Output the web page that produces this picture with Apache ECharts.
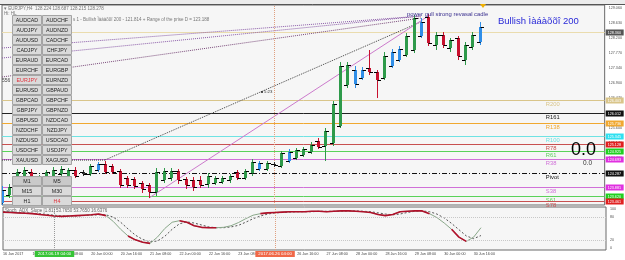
<!DOCTYPE html>
<html><head><meta charset="utf-8">
<script src="https://cdn.jsdelivr.net/npm/echarts@6/dist/echarts.min.js"></script>
<style>html,body{margin:0;padding:0;background:#fff}#c{width:625px;height:260px}</style>
</head><body><div id="c"></div><script>
// ---------- DATA ----------
const dateLabels = ['16 Jun 2017','16 Jun 16:00','19 Jun 08:00','20 Jun 00:00','20 Jun 16:00','21 Jun 08:00','22 Jun 00:00','22 Jun 16:00','23 Jun 08:00','26 Jun 00:00','26 Jun 16:00','27 Jun 08:00','28 Jun 00:00','28 Jun 16:00','29 Jun 08:00','30 Jun 00:00','30 Jun 16:00'];
const opens  = [123.417,123.649,124.112,124.199,124.315,123.996,124.141,124.199,124.257,124.199,124.373,124.315,124.257,124.373,124.547,124.489,124.344,124.141,124.112,123.996,123.939,123.736,124.083,124.141,124.344,124.112,124.083,124.083,123.967,123.996,124.025,124.083,124.315,124.141,124.286,124.402,124.402,124.547,124.489,124.634,124.721,124.808,124.895,125.214,125.069,125.156,125.649,126.837,127.272,127.040,127.330,127.214,127.040,127.388,127.562,127.707,127.852,128.257,128.808,127.997,128.286,127.910,128.200,127.562,127.939,128.084];
const closes = [123.794,123.881,124.315,124.373,124.083,124.170,124.315,124.373,124.402,124.373,124.199,124.257,124.489,124.547,124.315,124.315,123.939,123.939,123.910,123.823,123.736,124.315,124.344,124.344,124.083,123.939,123.881,123.939,124.199,124.141,124.141,124.199,124.141,124.344,124.605,124.576,124.576,124.518,124.866,124.895,124.953,124.982,125.098,125.040,125.504,126.286,127.388,127.417,126.866,127.272,127.214,126.982,127.678,127.794,127.881,128.257,128.779,128.663,128.055,128.286,127.997,128.142,127.678,127.997,128.286,128.518];
const lows   = [123.272,123.562,124.054,124.141,123.967,123.910,124.083,124.141,124.199,124.141,124.141,124.199,124.199,124.315,124.257,124.257,123.852,123.852,123.823,123.707,123.562,123.620,123.996,124.054,123.967,123.823,123.765,123.852,123.852,123.939,123.967,123.996,124.083,124.083,124.199,124.344,124.344,124.460,124.431,124.576,124.663,124.750,124.837,124.982,124.634,125.069,125.591,126.750,126.750,126.982,127.127,126.460,126.982,127.330,127.504,127.649,127.765,128.200,127.968,127.852,127.910,127.794,127.562,127.417,127.852,127.997];
const highs  = [123.910,123.967,124.402,124.460,124.402,124.228,124.373,124.460,124.489,124.431,124.460,124.373,124.547,124.605,124.634,124.547,124.402,124.199,124.170,124.054,123.996,124.431,124.431,124.431,124.402,124.170,124.170,124.199,124.286,124.199,124.199,124.257,124.373,124.402,124.692,124.634,124.634,124.605,124.924,124.982,125.011,125.040,125.185,125.301,125.591,126.373,127.504,127.504,127.388,127.359,127.852,127.272,127.794,127.881,127.968,128.344,128.866,128.779,128.895,128.373,128.373,128.200,128.257,128.084,128.373,128.663];
// bar colour class: 0 bull, 1 bear, 2 blue, 3 neutral
const barClass = [2,0,0,0,1,0,0,0,0,0,1,3,0,2,1,1,1,1,1,1,1,0,0,0,1,1,1,1,0,0,0,0,1,0,0,2,0,3,0,2,0,0,0,1,0,0,0,0,2,2,1,1,0,2,2,0,0,2,1,0,1,0,1,0,0,2];
const priceTicks = [123.870,124.300,124.730,125.170,125.600,126.030,126.470,126.900,127.340,127.770,128.200,128.630,129.060];
const levelNames  = ['R200','R161','R138','R100','R78','R61','R38','Pivot','S38','S61','S78'];
const levelValues = [126.403,126.012,125.736,125.345,125.128,124.925,124.693,124.287,123.881,123.620,123.461];
const lastPrice = 128.360;
const stochMain   = [92,91,90,89,88,86,84,82,81,82,83,84,85,87,83,68,48,31,21,15,12,28,50,66,70,66,57,53,52,52,53,57,65,75,84,88,90,91,92,93,93,93,94,94,93,94,95,95,94,93,91,86,83,86,93,94,95,95,88,78,64,48,28,17,28,52];
const stochSignal = [93,92,91,90,89,88,86,84,82,82,82,83,84,85,85,79,66,49,33,22,16,18,30,48,62,67,64,59,54,52,52,54,58,66,75,82,87,90,91,92,93,93,93,94,94,94,94,95,95,94,93,90,87,85,87,91,94,95,93,87,77,63,47,31,24,32];
const stochRedRanges = [[0,14],[17,20],[24,29],[35,58],[61,63]];
const stochTicks = [0,20,80,100];
// trend lines: [startBar, startPrice, endBar, endPrice]
const trendViolet = [20,123.562,58,128.837];
const trendDotted = [14,124.663,57,128.669];
const fanLines = [[0,127.910,57,128.837],[0,127.620,57,128.837],[0,127.069,57,128.779]];
const flatDotted = [0,124.663,14,124.663];
const vLineBar = 37, cursorBar = 7;
const pairs = [['AUDCAD','AUDCHF'],['AUDJPY','AUDNZD'],['AUDUSD','CADCHF'],['CADJPY','CHFJPY'],['EURAUD','EURCAD'],['EURCHF','EURGBP'],['EURJPY','EURNZD'],['EURUSD','GBPAUD'],['GBPCAD','GBPCHF'],['GBPJPY','GBPNZD'],['GBPUSD','NZDCAD'],['NZDCHF','NZDJPY'],['NZDUSD','USDCAD'],['USDCHF','USDJPY'],['XAUUSD','XAGUSD']];
const frames = [['M1','M5'],['M15','M30'],['H1','H4']];

// ---------- BUILD ----------
const NCAT = 83;
const cats = [];
for (let i=0;i<NCAT;i++){ cats.push(i%4===0 && dateLabels[i/4] ? dateLabels[i/4] : ''); }
const FONT = 'Liberation Sans';
const BAR_COL = ['#2e9a4a','#c8102e','#2f8ee8','#333333'];
const LV_COL  = ['#d9c58a','#222222','#f0a830','#6fe3e3','#c85050','#5ad25a','#d070d8','#111111','#d070d8','#5ad25a','#c85050'];
const LV_BOX  = ['#d9c58a','#111111','#f0a830','#30e0f0','#e02020','#20d020','#e030e0','#111111','#e030e0','#20d020','#e02020'];

const barData = opens.map((o,i)=>[i,o,closes[i],lows[i],highs[i],barClass[i]]);
const redLine = stochMain.map((v,i)=> stochRedRanges.some(r=>i>=r[0]&&i<=r[1]) ? [i,v] : [i,null]);

function seg(a, color, type, width){
  return {type:'line', xAxisIndex:0, yAxisIndex:0, data:[[a[0],a[1]],[a[2],a[3]]], symbol:'none', silent:true,
    lineStyle:{color, type, width}, z:3, animation:false};
}

const chart = echarts.init(document.getElementById('c'), null, {renderer:'canvas'});
const option = {
  animation:false,
  backgroundColor:'#ffffff',
  textStyle:{fontFamily:FONT},
  grid:[
    {left:2, right:19, top:5, height:200, show:true, backgroundColor:'#f6f6f6', borderColor:'#6a6a6a', borderWidth:1},
    {left:2, right:19, top:207, height:43, show:true, backgroundColor:'#f6f6f6', borderColor:'#6a6a6a', borderWidth:1}
  ],
  xAxis:[
    {type:'category', gridIndex:0, data:cats, boundaryGap:false, axisLine:{show:false}, axisTick:{show:false}, axisLabel:{show:false}, splitLine:{show:false}},
    {type:'category', gridIndex:1, data:cats, boundaryGap:false, axisLine:{show:false}, axisTick:{show:false}, splitLine:{show:false},
     axisLabel:{show:true, interval:0, align:'left', fontSize:3.7, color:'#444', margin:2, fontFamily:FONT}}
  ],
  yAxis:[
    {type:'value', gridIndex:0, position:'right', min:123.359, max:129.157, splitLine:{show:false}, axisLine:{show:false}, axisTick:{show:false},
     axisLabel:{customValues:priceTicks, formatter:v=>v.toFixed(3), fontSize:3.7, color:'#555', margin:4, fontFamily:FONT}},
    {type:'value', gridIndex:1, position:'right', min:-5, max:105, splitLine:{show:false}, axisLine:{show:false}, axisTick:{show:false},
     axisLabel:{customValues:stochTicks, fontSize:3.7, color:'#555', margin:4, fontFamily:FONT}}
  ],
  series:[
    // pivot levels
    {type:'custom', xAxisIndex:0, yAxisIndex:0, clip:false, z:2, silent:true,
     data: levelValues.map((v,i)=>[i,v]),
     renderItem(params, api){
       const i = params.dataIndex, v = levelValues[i];
       const cs = params.coordSys;
       const y = Math.round(api.coord([0,v])[1])+0.5;
       const lx = api.coord([73.6, v])[0];
       const dash = levelNames[i]==='Pivot' ? [5,2,1,2] : null;
       return {type:'group', children:[
         {type:'line', shape:{x1:cs.x, y1:y, x2:cs.x+cs.width, y2:y}, style:{stroke:LV_COL[i], lineWidth:1, lineDash:dash}},
         {type:'text', x:lx, y:y+0.5, style:{text:levelNames[i], fill:LV_COL[i], font:'5.8px '+FONT, textVerticalAlign:'top'}},
         {type:'rect', shape:{x:cs.x+cs.width+1, y:y-3, width:18, height:6}, style:{fill:LV_BOX[i]}},
         {type:'text', x:cs.x+cs.width+3, y:y+0.3, style:{text:v.toFixed(3), fill:'#fff', font:'3.7px '+FONT, textVerticalAlign:'middle'}}
       ]};
     }},
    // last price line
    {type:'custom', xAxisIndex:0, yAxisIndex:0, clip:false, z:2, silent:true, data:[[0,lastPrice]],
     renderItem(params, api){
       const cs = params.coordSys;
       const y = Math.round(api.coord([0,lastPrice])[1])+0.5;
       return {type:'group', children:[
         {type:'line', shape:{x1:cs.x, y1:y, x2:cs.x+cs.width, y2:y}, style:{stroke:'#eadcae', lineWidth:1}},
         {type:'rect', shape:{x:cs.x+cs.width+1, y:y-3, width:18, height:6}, style:{fill:'#555'}},
         {type:'text', x:cs.x+cs.width+3, y:y+0.3, style:{text:lastPrice.toFixed(3), fill:'#fff', font:'3.7px '+FONT, textVerticalAlign:'middle'}}
       ]};
     }},
    seg(flatDotted,'#333','dotted',1),
    seg(fanLines[0],'#8a5aa8','dotted',1),
    seg(fanLines[1],'#8a5aa8','dotted',1),
    seg(fanLines[2],'#7a4a7a','dotted',1),
    seg(trendDotted,'#444','dotted',1),
    seg(trendViolet,'#cc7acc','solid',1),
    // bars
    {type:'custom', xAxisIndex:0, yAxisIndex:0, clip:true, z:5, silent:true,
     encode:{x:0, y:[1,2,3,4]}, data:barData,
     markLine:{silent:true, symbol:'none', label:{show:false}, lineStyle:{color:'#e0a080', type:'dotted', width:1}, data:[{xAxis:vLineBar}]},
     renderItem(params, api){
       const x = api.value(0);
       const pO = api.coord([x, api.value(1)]), pC = api.coord([x, api.value(2)]);
       const pL = api.coord([x, api.value(3)]), pH = api.coord([x, api.value(4)]);
       const col = BAR_COL[api.value(5)];
       const cx = Math.round(pO[0])+0.5;
       const top = Math.min(pO[1],pC[1]), h = Math.max(1, Math.abs(pO[1]-pC[1]));
       return {type:'group', children:[
         {type:'line', shape:{x1:cx, y1:pH[1], x2:cx, y2:pL[1]}, style:{stroke:col, lineWidth:1}},
         {type:'rect', shape:{x:cx-1.5, y:top, width:3, height:h}, style:{fill:col}},
         {type:'line', shape:{x1:cx-3.5, y1:Math.round(pO[1])+0.5, x2:cx, y2:Math.round(pO[1])+0.5}, style:{stroke:'#000', lineWidth:1}},
         {type:'line', shape:{x1:cx, y1:Math.round(pC[1])+0.5, x2:cx+3.5, y2:Math.round(pC[1])+0.5}, style:{stroke:'#000', lineWidth:1}}
       ]};
     }},
    // stochastic
    {type:'line', xAxisIndex:1, yAxisIndex:1, data:stochSignal.map((v,i)=>[i,v]), symbol:'none', lineStyle:{color:'#555', type:[2,2], width:1}, z:3,
     markLine:{silent:true, symbol:'none', label:{show:false}, lineStyle:{color:'#c8c8c8', type:'dotted', width:1}, data:[{yAxis:20},{yAxis:80}]}},
    {type:'line', xAxisIndex:1, yAxisIndex:1, data:stochMain.map((v,i)=>[i,v]), symbol:'none', lineStyle:{color:'#8aa88a', width:1}, z:4},
    {type:'line', xAxisIndex:1, yAxisIndex:1, data:redLine, symbol:'none', connectNulls:false, lineStyle:{color:'#b0102a', width:1.6}, z:5,
     markLine:{silent:true, symbol:'none', z:20, lineStyle:{color:'#999', type:'dotted', width:1},
       data:[
         {xAxis:cursorBar, label:{show:true, position:'start', distance:1, formatter:'2017.06.19 04:00', backgroundColor:'#35c435', color:'#fff', fontSize:4.3, padding:[1,3], fontFamily:FONT}},
         {xAxis:vLineBar, lineStyle:{color:'#e0a080'}, label:{show:true, position:'start', distance:1, formatter:'2017.06.26 04:00', backgroundColor:'#f06848', color:'#fff', fontSize:4.3, padding:[1,3], fontFamily:FONT}}
       ]}}
  ],
  graphic: []
};
chart.setOption(option);

// overlay UI elements (toolbar, text, button panels)
const g = [];
g.push({type:'rect', shape:{x:0,y:0,width:625,height:4}, style:{fill:'#ececec'}, z:50});
g.push({type:'line', shape:{x1:0,y1:4.5,x2:625,y2:4.5}, style:{stroke:'#555',lineWidth:1}, z:50});
g.push({type:'text', x:4, y:9, style:{text:'▾ EURJPY,H4  128.224 128.687 128.215 128.278', fill:'#777', font:'4.5px '+FONT, textVerticalAlign:'middle'}, z:50});
g.push({type:'text', x:4, y:14, style:{text:'Hi: HL', fill:'#777', font:'4.5px '+FONT, textVerticalAlign:'middle'}, z:50});
g.push({type:'text', x:73, y:20, style:{text:'s 1 - Bullish Ìàáàõõî 200 - 121.814 + Range of the prise D = 123.188', fill:'#777', font:'4.5px '+FONT, textVerticalAlign:'middle'}, z:50});
g.push({type:'text', x:2, y:81, style:{text:'556', fill:'#444', font:'5px '+FONT, textVerticalAlign:'middle'}, z:50});
g.push({type:'text', x:5, y:211, style:{text:'Stoch_ADX_Slope [1.81] 53.7650 53.7650 16.6376', fill:'#666', font:'4.5px '+FONT, textVerticalAlign:'middle'}, z:50});
g.push({type:'circle', shape:{cx:262,cy:92,r:1}, style:{fill:'#222'}, z:50});
g.push({type:'text', x:264, y:92, style:{text:'5:23', fill:'#333', font:'4.3px '+FONT, textVerticalAlign:'middle'}, z:50});
g.push({type:'text', x:407, y:14, style:{text:'power gull strong revasal cadle', fill:'#3a2f8f', font:'5.9px '+FONT, textVerticalAlign:'middle'}, z:50});
g.push({type:'text', x:498, y:21, style:{text:'Bullish Ìàáàõõî 200', fill:'#2a2ad8', font:'9.5px '+FONT, textVerticalAlign:'middle'}, z:50});
g.push({type:'polygon', shape:{points:[[480,4],[486,4],[483,8]]}, style:{fill:'#f0b000'}, z:50});
g.push({type:'text', x:571, y:150, style:{text:'0.0', fill:'#000', font:'18px '+FONT, textVerticalAlign:'middle'}, z:50});
g.push({type:'text', x:583, y:163, style:{text:'0.0', fill:'#333', font:'6.5px '+FONT, textVerticalAlign:'middle'}, z:50});
pairs.forEach((row,r)=>{
  row.forEach((name,c)=>{
    const x = 12 + c*30, y = 15 + r*10;
    g.push({type:'rect', shape:{x:x+0.5,y:y+0.5,width:29,height:9}, style:{fill:'#dadada', stroke:'#a4a4a4', lineWidth:1}, z:60});
    g.push({type:'text', x:x+15, y:y+5.2, style:{text:name, fill: name==='EURJPY' ? '#e0303a' : '#222', font:'5.3px '+FONT, textAlign:'center', textVerticalAlign:'middle'}, z:61});
  });
});
frames.forEach((row,r)=>{
  row.forEach((name,c)=>{
    const x = 12 + c*30, y = 176 + r*10;
    g.push({type:'rect', shape:{x:x+0.5,y:y+0.5,width:29,height:9}, style:{fill: r===0 ? '#c9c9c9' : '#dadada', stroke:'#a4a4a4', lineWidth:1}, z:60});
    g.push({type:'text', x:x+15, y:y+5.2, style:{text:name, fill: name==='H4' ? '#e0303a' : '#222', font:'5.3px '+FONT, textAlign:'center', textVerticalAlign:'middle'}, z:61});
  });
});
chart.setOption({graphic:g});
</script></body></html>
